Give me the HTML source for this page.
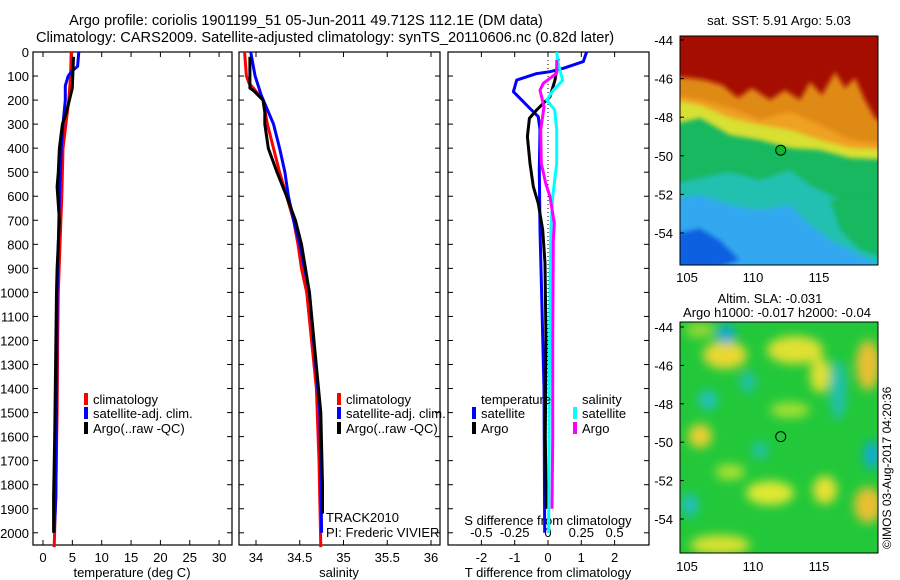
<!DOCTYPE html>
<html><head><meta charset="utf-8"><style>
html,body{margin:0;padding:0;background:#fff}
svg{display:block;font-family:"Liberation Sans",sans-serif}
text{font-size:13px;fill:#000}
</style></head><body>
<svg id="c" width="900" height="580" viewBox="0 0 900 580">
<defs>
<filter id="bl" x="-20%" y="-20%" width="140%" height="140%"><feGaussianBlur stdDeviation="5"/></filter>
<filter id="bl2" x="-20%" y="-20%" width="140%" height="140%"><feGaussianBlur stdDeviation="2.5"/></filter>
<clipPath id="cm1"><rect x="680" y="36" width="198" height="229"/></clipPath>
<clipPath id="cm2"><rect x="680" y="322" width="198" height="231"/></clipPath>
</defs>
<text x="306" y="25" text-anchor="middle" style="font-size:14.6px">Argo profile: coriolis 1901199_51 05-Jun-2011 49.712S 112.1E (DM data)</text>
<text x="325" y="42" text-anchor="middle" style="font-size:14.6px">Climatology: CARS2009. Satellite-adjusted climatology: synTS_20110606.nc (0.82d later)</text>
<g id="maps">
<g clip-path="url(#cm1)">
<rect x="670" y="30" width="220" height="245" fill="#18b860"/>
<g filter="url(#bl2)">
<polygon points="670,185 700,178 730,172 760,180 790,170 810,185 830,195 850,205 890,215 890,280 670,280" fill="#22c0b0"/>
<polygon points="670,200 700,195 730,205 760,210 790,205 810,225 830,240 850,250 870,260 890,270 890,280 670,280" fill="#30a8f0"/>
<polygon points="670,235 700,228 720,240 740,260 700,275 670,275" fill="#1060e0"/>
<polygon points="830,200 890,195 890,260 860,250 840,230" fill="#18b860"/>
<polygon points="670,125 700,118 730,135 760,140 790,148 820,150 850,158 890,160 890,60 670,60" fill="#d8e030"/>
<polygon points="670,100 700,105 730,118 760,125 790,130 820,140 850,148 890,150 890,60 670,60" fill="#f0a020"/>
<polygon points="670,95 700,100 730,108 760,120 790,112 820,125 850,140 890,145 890,60 670,60" fill="#e08a18"/>
</g>
<polygon points="670,25 890,25 890,125 875,118 865,100 855,78 845,88 835,72 822,95 810,82 800,100 785,90 770,100 752,88 738,98 722,85 705,80 690,78 670,76" fill="#a50f00" filter="url(#bl2)"/>
</g>
<rect x="680" y="36" width="198" height="229" fill="none" stroke="#000"/>
<g clip-path="url(#cm2)">
<rect x="680" y="322" width="198" height="231" fill="#22c83a"/>
<g filter="url(#bl)">
<ellipse cx="700" cy="330" rx="15" ry="8" fill="#90d830"/>
<ellipse cx="725" cy="355" rx="22" ry="14" fill="#e8d830"/>
<ellipse cx="795" cy="350" rx="28" ry="14" fill="#e0e030"/>
<ellipse cx="820" cy="375" rx="10" ry="18" fill="#e0e030"/>
<ellipse cx="868" cy="365" rx="12" ry="25" fill="#e8c030"/>
<ellipse cx="790" cy="410" rx="20" ry="8" fill="#a0e030"/>
<ellipse cx="700" cy="436" rx="12" ry="12" fill="#e8d030"/>
<ellipse cx="770" cy="493" rx="24" ry="12" fill="#e0e830"/>
<ellipse cx="825" cy="490" rx="12" ry="14" fill="#e8e030"/>
<ellipse cx="868" cy="505" rx="14" ry="18" fill="#e8c030"/>
<ellipse cx="720" cy="545" rx="30" ry="10" fill="#d8e030"/>
<ellipse cx="730" cy="472" rx="15" ry="8" fill="#a8e030"/>
<ellipse cx="726" cy="334" rx="9" ry="10" fill="#10a8d8"/>
<ellipse cx="838" cy="390" rx="8" ry="30" fill="#20c0b0"/>
<ellipse cx="708" cy="400" rx="9" ry="10" fill="#20c0c0"/>
<ellipse cx="748" cy="382" rx="8" ry="10" fill="#20c0b0"/>
<ellipse cx="872" cy="455" rx="8" ry="14" fill="#10a8d8"/>
<ellipse cx="690" cy="505" rx="8" ry="12" fill="#20c0c0"/>
<ellipse cx="760" cy="450" rx="8" ry="8" fill="#20c0b0"/>
</g>
</g>
<rect x="680" y="322" width="198" height="231" fill="none" stroke="#000"/>
<text x="779" y="25" text-anchor="middle">sat. SST: 5.91  Argo: 5.03</text>
<text x="770" y="303" text-anchor="middle">Altim. SLA: -0.031</text>
<text x="777" y="317" text-anchor="middle">Argo h1000: -0.017 h2000: -0.04</text>
<text transform="translate(891,549) rotate(-90)" style="font-size:12px">©IMOS 03-Aug-2017 04:20:36</text>
</g>
<g id="g"></g>
</svg>
<script>
// ---- data ----
const depthTicks=[0,100,200,300,400,500,600,700,800,900,1000,1100,1200,1300,1400,1500,1600,1700,1800,1900,2000];
const tempTicks=[0,5,10,15,20,25,30];
const salTicks=[34,34.5,35,35.5,36];
const salTickLabels=["34","34.5","35","35.5","36"];
const tdiffTicks=[-2,-1,0,1,2];
const sdiffTicks=[-0.5,-0.25,0,0.25,0.5];
const sdiffTickLabels=["-0.5","-0.25","0","0.25","0.5"];
const latTicks=[-44,-46,-48,-50,-52,-54];
const lonTicks=[105,110,115];

const climTD=[0,100,200,300,400,500,600,800,1000,1200,1500,1800,2060];
const climT=[4.8,4.7,4.4,3.9,3.4,3.3,3.2,2.9,2.6,2.5,2.4,2.2,1.9];
const satTD=[0,60,80,100,140,200,300,400,600,800,1000,1500,1850,2000];
const satT=[6.1,5.9,4.9,4.3,3.8,3.8,3.4,3.1,2.8,2.6,2.4,2.3,2.2,1.9];
const argoTD=[20,150,190,250,300,400,500,560,700,900,1000,1600,1850,2000];
const argoT=[5.2,5.0,4.6,4.0,3.3,2.8,2.6,2.4,2.8,2.4,2.3,2.0,1.8,1.8];

const climSD=[0,100,130,150,200,300,400,500,600,700,800,900,1000,1400,1700,2060];
const climS=[33.87,33.89,33.92,33.97,34.08,34.13,34.20,34.27,34.35,34.43,34.48,34.52,34.58,34.69,34.72,34.74];
const satSD=[0,100,180,300,400,500,600,700,800,1000,1500,2000];
const satS=[33.94,33.99,34.06,34.20,34.27,34.33,34.37,34.43,34.50,34.61,34.73,34.75];
const argoSD=[20,150,160,200,250,300,400,500,600,700,800,1000,1500,1800,1920];
const argoS=[33.93,33.93,33.97,34.08,34.10,34.10,34.14,34.24,34.35,34.45,34.52,34.61,34.74,34.76,34.76];

const dTsatD=[0,40,68,82,90,117,165,200,235,269,324,490,740,950,1400,2000];
const dTsat=[1.16,1.06,0.46,0.06,-0.34,-0.94,-1.04,-0.79,-0.54,-0.29,-0.24,-0.26,-0.24,-0.2,-0.12,-0.1];
const dTargoD=[28,117,186,241,276,352,463,560,630,740,879,1200,1600,1900];
const dTargo=[0.31,0.21,0.06,-0.34,-0.56,-0.62,-0.54,-0.44,-0.29,-0.16,-0.09,-0.06,-0.08,-0.05];
const dSsatD=[0,49,118,159,200,241,324,463,602,740,948,1400,2000];
const dSsat=[0.065,0.077,0.11,0.04,-0.01,0.05,0.065,0.065,0.035,0.022,0.015,0.01,0.005];
const dSargoD=[33,88,130,159,228,324,463,546,602,713,782,1200,1600,1900];
const dSargo=[0.065,0.065,-0.035,-0.06,-0.03,-0.055,-0.05,-0.017,0.015,0.047,0.04,0.035,0.035,0.03];

// ---- axes ----
const Y0=52, PY=0.2404;
const yD=d=>Y0+d*PY;
const xT=t=>43+t*5.87;
const xS=s=>256+(s-34)*87.5;
const xDT=t=>548+t*33.3;
const xDS=s=>548+s*133.2;
const NS="http://www.w3.org/2000/svg";
const G=document.getElementById('g');
function mk(tag,attrs,parent){const e=document.createElementNS(NS,tag);for(const k in attrs)e.setAttribute(k,attrs[k]);(parent||G).appendChild(e);return e;}
function txt(x,y,s,anchor,name,size){const e=mk('text',{x:x,y:y,'text-anchor':anchor||'start'});e.textContent=s;if(size)e.style.fontSize=size+'px';


return e;}
function line(xs,ds,fx,color,name,w){
 const pts=xs.map((v,i)=>fx(v).toFixed(1)+','+yD(ds[i]).toFixed(1)).join(' ');
 const p=mk('polyline',{points:pts,fill:'none',stroke:color,'stroke-width':w||3,'stroke-linejoin':'round'});
 
 
}
const panels=[[33,232],[239,440],[448,649]];
const BOT=545;
panels.forEach((p,i)=>{
 const r=mk('rect',{x:p[0],y:Y0,width:p[1]-p[0],height:BOT-Y0,fill:'none',stroke:'#000','stroke-width':1.2});
 
 
 depthTicks.forEach(d=>{mk('line',{x1:p[0],x2:p[0]+5,y1:yD(d),y2:yD(d),stroke:'#000'});mk('line',{x1:p[1]-5,x2:p[1],y1:yD(d),y2:yD(d),stroke:'#000'});});
});
depthTicks.forEach(d=>txt(29,yD(d)+5,String(d),'end','depth-tick-label'));
tempTicks.forEach(t=>{mk('line',{x1:xT(t),x2:xT(t),y1:BOT,y2:BOT-5,stroke:'#000'});mk('line',{x1:xT(t),x2:xT(t),y1:Y0,y2:Y0+5,stroke:'#000'});txt(xT(t),BOT+17,String(t),'middle','temp-tick-label');});
salTicks.forEach((s,i)=>{mk('line',{x1:xS(s),x2:xS(s),y1:BOT,y2:BOT-5,stroke:'#000'});mk('line',{x1:xS(s),x2:xS(s),y1:Y0,y2:Y0+5,stroke:'#000'});txt(xS(s),BOT+17,salTickLabels[i],'middle','salinity-tick-label');});
tdiffTicks.forEach(t=>{mk('line',{x1:xDT(t),x2:xDT(t),y1:BOT,y2:BOT-5,stroke:'#000'});mk('line',{x1:xDT(t),x2:xDT(t),y1:Y0,y2:Y0+5,stroke:'#000'});txt(xDT(t),BOT+17,String(t),'middle','tdiff-tick-label');});
sdiffTicks.forEach((s,i)=>{txt(xDS(s),BOT-8,sdiffTickLabels[i],'middle','sdiff-tick-label');});
txt(132,577,'temperature (deg C)','middle','temperature-axis-title');
txt(339,577,'salinity','middle','salinity-axis-title');
txt(548,577,'T difference from climatology','middle','tdiff-axis-title');
txt(548,525,'S difference from climatology','middle','sdiff-axis-title');
const dz=mk('line',{x1:xDT(0),x2:xDT(0),y1:Y0,y2:BOT,stroke:'#000','stroke-dasharray':'1,3'});



line(climT,climTD,xT,'#f00','temp-climatology-line');
line(satT,satTD,xT,'#00f','temp-satellite-line');
line(argoT,argoTD,xT,'#000','temp-argo-line');
line(climS,climSD,xS,'#f00','sal-climatology-line');
line(satS,satSD,xS,'#00f','sal-satellite-line');
line(argoS,argoSD,xS,'#000','sal-argo-line');
line(dTsat,dTsatD,xDT,'#00f','tdiff-satellite-line');
line(dTargo,dTargoD,xDT,'#000','tdiff-argo-line');
line(dSsat,dSsatD,xDS,'#0ff','sdiff-satellite-line');
line(dSargo,dSargoD,xDS,'#f0f','sdiff-argo-line');

function leg(x,y,color,label,name){
 const r=mk('rect',{x:x,y:y-11,width:4,height:12,fill:color});
 
 
 txt(x+9,y,label,'start',name);
}
[[84],[337]].forEach((p,i)=>{const x=p[0];const pre=i?'sal':'temp';
 leg(x,404,'#f00','climatology',pre+'-legend-climatology');
 leg(x,418,'#00f','satellite-adj. clim.',pre+'-legend-satellite');
 leg(x,433,'#000','Argo(..raw -QC)',pre+'-legend-argo');});
txt(481,404,'temperature','start','legend-temperature-header');
leg(472,418,'#00f','satellite','legend-tdiff-satellite');
leg(472,433,'#000','Argo','legend-tdiff-argo');
txt(582,404,'salinity','start','legend-salinity-header');
leg(573,418,'#0ff','satellite','legend-sdiff-satellite');
leg(573,433,'#f0f','Argo','legend-sdiff-argo');
txt(326,522,'TRACK2010','start','project-label');
txt(326,537,'PI: Frederic VIVIER','start','pi-label');

// map axes
const latY1=l=>40+(-44-l)*19.3, latY2=l=>327+(-44-l)*19.2, lonX=l=>687+(l-105)*13.2;
latTicks.forEach(l=>{txt(673,latY1(l)+5,String(l),'end','sst-map-lat-label');txt(673,latY2(l)+5,String(l),'end','sla-map-lat-label');
 mk('line',{x1:680,x2:684,y1:latY1(l),y2:latY1(l),stroke:'#000'});mk('line',{x1:680,x2:684,y1:latY2(l),y2:latY2(l),stroke:'#000'});});
lonTicks.forEach(l=>{txt(lonX(l),282,String(l),'middle','sst-map-lon-label');txt(lonX(l),571,String(l),'middle','sla-map-lon-label');});
const argoLon=112.1, argoLat=-49.712;
const m1=mk('ellipse',{cx:lonX(argoLon),cy:latY1(argoLat),rx:5,ry:5,fill:'#10b830',stroke:'#000'});


const m2=mk('ellipse',{cx:lonX(argoLon),cy:latY2(argoLat),rx:5,ry:5,fill:'none',stroke:'#000'});


</script>
</body></html>
